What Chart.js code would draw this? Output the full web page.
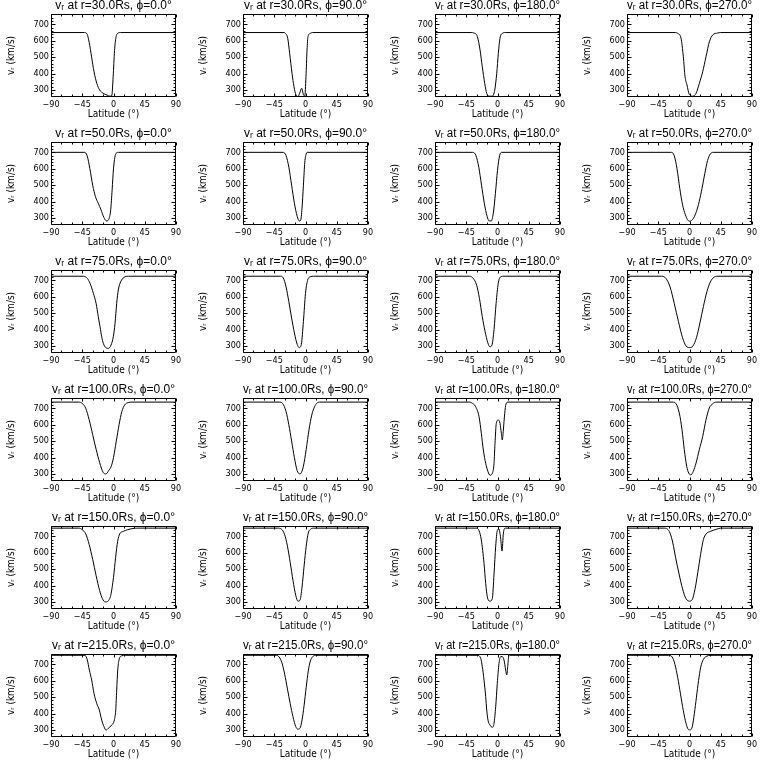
<!DOCTYPE html>
<html><head><meta charset="utf-8">
<script src="https://cdn.jsdelivr.net/npm/chart.js@4.4.0/dist/chart.umd.min.js"></script>
<style>
html,body{margin:0;padding:0;background:#fff;}
#grid{position:relative;width:768px;height:768px;background:#fff;}
.cell{position:absolute;width:192px;height:128px;}
canvas{display:block;}
</style></head><body><div id="grid"></div>
<script>
// ---------- axes ----------
const RADII = [30, 50, 75, 100, 150, 215];
const PHIS = [0, 90, 180, 270];
const LAT_TICKS = [-90, -45, 0, 45, 90];
const LAT_MINOR = [-75, -60, -30, -15, 15, 30, 60, 75];
const V_TICKS = [300, 400, 500, 600, 700];
const V_MINOR = [260, 280, 320, 340, 360, 380, 420, 440, 460, 480, 520, 540, 560, 580, 620, 640, 660, 680, 720, 740, 760];
const V_RANGE = [257, 763];

// ---------- r = 30 Rs ----------
const lat_30_0 = [-90, -42, -38, -35, -31.5, -28, -24, -20, -15, -9, -5, -2.5, -0.5, 1.5, 3.5, 6, 10, 90];
const v_30_0   = [650, 650, 640, 590, 500, 410, 340, 300, 280, 268, 262, 265, 380, 540, 620, 645, 650, 650];
const lat_30_90 = [-90, -31, -29, -25.6, -22.8, -19.4, -16.6, -13.7, -10.8, -8.5, -5.5, -3, -1.1, 0.7, 2.2, 3.6, 6.9, 10, 90];
const v_30_90   = [650, 650, 645, 615, 523, 401, 320, 269, 260, 279, 310, 272, 262, 381, 543, 625, 645, 650, 650];
const lat_30_180 = [-90, -38, -34, -29, -25.1, -21.9, -18.4, -15.5, -12.2, -7.5, -4, -1.1, 1.2, 3.6, 6.9, 11.8, 90];
const v_30_180   = [650, 650, 647, 625, 543, 441, 340, 279, 262, 262, 299, 401, 523, 615, 645, 650, 650];
const lat_30_270 = [-90, -20, -17, -12.2, -8.9, -6.4, -3.6, -0.3, 4.6, 9.4, 14.2, 19, 23.8, 28.6, 33.4, 40.6, 45, 90];
const v_30_270   = [650, 650, 645, 615, 503, 381, 330, 273, 262, 279, 340, 411, 503, 594, 635, 647, 650, 650];

// ---------- r = 50 Rs ----------
const lat_50_0 = [-90, -42, -38, -34, -30, -26, -22, -18, -14, -10, -7, -4, -2, 0, 2, 4, 7, 90];
const v_50_0   = [700, 700, 680, 600, 500, 430, 390, 350, 305, 282, 290, 350, 470, 600, 670, 695, 700, 700];
const lat_50_90 = [-90, -32, -28, -24, -20, -16, -12, -9, -7, -5, -3, -1, 1, 3, 90];
const v_50_90   = [700, 700, 680, 610, 500, 390, 310, 282, 285, 360, 500, 640, 690, 700, 700];
const lat_50_180 = [-90, -36, -31, -27, -23, -19, -15, -12, -9, -6, -3, 0, 3, 6, 90];
const v_50_180   = [700, 700, 680, 610, 500, 390, 310, 282, 282, 330, 450, 590, 680, 700, 700];
const lat_50_270 = [-90, -26, -22, -18, -14, -10, -6, -3, 0, 3, 6, 10, 14, 18, 22, 26, 30, 34, 90];
const v_50_270   = [700, 700, 680, 600, 480, 380, 320, 290, 280, 285, 300, 340, 400, 480, 570, 650, 690, 700, 700];

// ---------- r = 75 Rs ----------
const lat_75_0 = [-90, -43.4, -37.7, -33.8, -29, -25.1, -21.9, -19.4, -17, -14.7, -10.8, -7.5, -3.6, -0.3, 2.2, 4.6, 6.9, 10.4, 15.1, 21.4, 90];
const v_75_0   = [725, 725, 712, 682, 621, 560, 478, 417, 356, 316, 289, 285, 305, 356, 438, 560, 641, 692, 718, 725, 725];
const lat_75_90 = [-90, -36, -32, -28, -24, -20, -16, -12, -9, -6, -3, 0, 3, 7, 12, 90];
const v_75_90   = [725, 725, 715, 660, 570, 470, 380, 310, 290, 310, 450, 620, 700, 722, 725, 725];
const lat_75_180 = [-90, -40, -35, -30, -26, -22, -18, -14, -11, -8, -5, -2, 1, 4, 8, 90];
const v_75_180   = [725, 725, 712, 670, 590, 480, 390, 320, 295, 305, 400, 560, 680, 720, 725, 725];
const lat_75_270 = [-90, -40, -34, -28, -22, -16, -10, -5, 0, 5, 10, 15, 20, 25, 30, 35, 40, 90];
const v_75_270   = [725, 725, 712, 660, 560, 450, 350, 300, 290, 300, 350, 440, 540, 630, 690, 718, 725, 725];

// ---------- r = 100 Rs ----------
const lat_100_0 = [-90, -50, -45, -40, -35, -30, -25, -20, -15, -11, -7, -3, 0, 4, 8, 12, 16, 22, 28, 90];
const v_100_0   = [738, 738, 730, 700, 630, 540, 450, 370, 310, 300, 320, 350, 400, 500, 600, 680, 720, 736, 738, 738];
const lat_100_90 = [-90, -38, -33, -28, -24, -20, -16, -12, -8, -4, 0, 4, 8, 12, 16, 20, 90];
const v_100_90   = [738, 738, 730, 680, 600, 500, 400, 320, 300, 330, 420, 540, 640, 700, 730, 738, 738];
const lat_100_180 = [-90, -40, -37.7, -31.4, -26.6, -23.3, -20.4, -17, -13.7, -10.8, -7.5, -5, -3.6, -1.7, 1.2, 3.6, 5.5, 6.9, 8.4, 10.4, 12.2, 15.1, 90];
const v_100_180   = [738, 738, 734, 710, 649, 548, 446, 365, 314, 292, 303, 365, 487, 609, 629, 609, 548, 507, 568, 670, 726, 738, 738];
const lat_100_270 = [-90, -24, -19.4, -14.7, -10.8, -7.5, -4, -1.1, 2.2, 5.5, 9.4, 14.1, 19, 23.8, 28.5, 33.4, 38.2, 90];
const v_100_270   = [738, 738, 728, 671, 570, 448, 346, 305, 295, 316, 366, 448, 529, 631, 702, 728, 738, 738];

// ---------- r = 150 Rs ----------
const lat_150_0 = [-90, -50, -45, -40, -35, -30, -25, -20, -16, -12, -8, -4, 0, 3, 6, 9, 14, 20, 28, 35, 90];
const v_150_0   = [750, 750, 740, 715, 650, 560, 460, 370, 320, 300, 305, 340, 450, 570, 670, 715, 730, 740, 748, 750, 750];
const lat_150_90 = [-90, -40, -35, -30, -26, -22, -18, -14, -11, -8, -5, -2, 1, 4, 8, 12, 90];
const v_150_90   = [750, 750, 745, 710, 640, 540, 430, 340, 305, 310, 390, 520, 640, 720, 745, 750, 750];
const lat_150_180 = [-90, -30, -26.6, -23.3, -19.4, -17, -14.7, -10.8, -7.5, -5, -2.6, -0.3, 2, 4.5, 6.5, 8.5, 11, 90];
const v_150_180   = [750, 750, 735, 678, 535, 413, 332, 305, 320, 470, 640, 735, 745, 690, 610, 720, 750, 750];
const lat_150_270 = [-90, -36, -32, -28, -24, -20, -15, -10, -5, 0, 4, 8, 12, 16, 20, 24, 30, 38, 45, 90];
const v_150_270   = [750, 750, 745, 720, 660, 570, 470, 380, 320, 305, 315, 380, 480, 590, 680, 715, 730, 742, 750, 750];

// ---------- r = 215 Rs ----------
const lat_215_0 = [-90, -44, -41, -37.7, -34.8, -31.4, -28.1, -24.2, -20.4, -17, -13.7, -10.8, -7.5, -2.6, 1.2, 3.2, 4.6, 6.1, 7.9, 11.8, 16.6, 90];
const v_215_0   = [755, 755, 755, 726, 665, 604, 523, 462, 421, 360, 320, 299, 310, 330, 360, 421, 543, 665, 726, 752, 755, 755];
const lat_215_90 = [-90, -42, -38, -34, -30, -26, -22, -18, -14, -11, -8, -5, -2, 1, 4, 7, 10, 14, 90];
const v_215_90   = [755, 755, 745, 710, 640, 550, 460, 380, 320, 305, 310, 360, 450, 560, 660, 720, 745, 755, 755];
const lat_215_180 = [-90, -29, -24.2, -21.9, -19.4, -17, -15.5, -13.7, -10.8, -7.5, -5, -2.6, -0.3, 2.2, 4.6, 6.9, 9.4, 11.8, 13.3, 14.7, 16.1, 18, 90];
const v_215_180   = [755, 755, 737, 686, 604, 503, 421, 360, 330, 316, 340, 442, 584, 706, 747, 747, 726, 665, 635, 686, 747, 755, 755];
const lat_215_270 = [-90, -30, -25, -21, -17, -13, -9, -5, -2, 1, 4, 7, 10, 13, 16, 20, 25, 30, 90];
const v_215_270   = [755, 755, 745, 700, 620, 520, 420, 340, 305, 300, 320, 400, 500, 600, 680, 730, 750, 755, 755];

const PANELS = [
  [[lat_30_0, v_30_0], [lat_30_90, v_30_90], [lat_30_180, v_30_180], [lat_30_270, v_30_270]],
  [[lat_50_0, v_50_0], [lat_50_90, v_50_90], [lat_50_180, v_50_180], [lat_50_270, v_50_270]],
  [[lat_75_0, v_75_0], [lat_75_90, v_75_90], [lat_75_180, v_75_180], [lat_75_270, v_75_270]],
  [[lat_100_0, v_100_0], [lat_100_90, v_100_90], [lat_100_180, v_100_180], [lat_100_270, v_100_270]],
  [[lat_150_0, v_150_0], [lat_150_90, v_150_90], [lat_150_180, v_150_180], [lat_150_270, v_150_270]],
  [[lat_215_0, v_215_0], [lat_215_90, v_215_90], [lat_215_180, v_215_180], [lat_215_270, v_215_270]]
];

// ---------- style ----------
const TICK_FONT = {family: '"Liberation Sans Narrow", "DejaVu Sans Condensed", sans-serif', size: 9, lineHeight: 1.1, weight: 'normal'};
const LABEL_FONT = {family: '"Liberation Sans Narrow", "DejaVu Sans Condensed", sans-serif', size: 10, lineHeight: '12px', weight: 'normal'};
const TITLE_FONT = {family: '"Liberation Sans", "DejaVu Sans", sans-serif', size: 12, lineHeight: '12px', weight: 'normal'};

// IDL-style box with inward ticks on all four sides
const boxTicks = {
  id: 'boxTicks',
  afterDatasetsDraw(chart) {
    const {ctx, chartArea: a, scales: {x, y}} = chart;
    ctx.save();
    ctx.strokeStyle = '#000';
    ctx.lineWidth = 1;
    const L = Math.round(a.left) + 0.5, R = Math.round(a.right) - 0.5;
    const T = Math.round(a.top) + 0.5, B = Math.round(a.bottom) - 0.5;
    ctx.beginPath();
    ctx.rect(L, T, R - L, B - T);
    const xt = (vals, len) => vals.forEach(v => {
      const p = Math.round(x.getPixelForValue(v)) + 0.5;
      ctx.moveTo(p, B); ctx.lineTo(p, B - len);
      ctx.moveTo(p, T); ctx.lineTo(p, T + len);
    });
    const yt = (vals, len) => vals.forEach(v => {
      const p = Math.round(y.getPixelForValue(v)) + 0.5;
      if (p < T || p > B) return;
      ctx.moveTo(L, p); ctx.lineTo(L + len, p);
      ctx.moveTo(R, p); ctx.lineTo(R - len, p);
    });
    xt(LAT_TICKS, 3); xt(LAT_MINOR, 2);
    yt(V_TICKS, 4); yt(V_MINOR, 2);
    ctx.stroke();
    ctx.restore();
  }
};

const grid = document.getElementById('grid');
RADII.forEach((r, i) => {
  PHIS.forEach((phi, j) => {
    const cell = document.createElement('div');
    cell.className = 'cell';
    cell.style.left = (j * 192) + 'px';
    cell.style.top = (i * 128) + 'px';
    const cv = document.createElement('canvas');
    cv.width = 192; cv.height = 128;
    cv.style.width = '192px'; cv.style.height = '128px';
    cell.appendChild(cv);
    grid.appendChild(cell);
    const [lat, v] = PANELS[i][j];
    new Chart(cv, {
      type: 'line',
      data: {
        datasets: [{
          data: lat.map((x, k) => ({x: x, y: v[k]})),
          borderColor: '#000', borderWidth: 1, pointRadius: 0, fill: false,
          cubicInterpolationMode: 'monotone'
        }]
      },
      options: {
        responsive: false, animation: false, devicePixelRatio: 1,
        layout: {padding: {left: 0, right: 16, top: 0, bottom: 0}},
        plugins: {
          legend: {display: false}, tooltip: {enabled: false},
          title: {
            display: true, fullSize: false, color: '#000',
            text: 'v\u1D63 at r=' + r.toFixed(1) + 'Rs, \u03D5=' + phi.toFixed(1) + '\u00B0',
            font: TITLE_FONT, padding: {top: 0, bottom: 2}
          }
        },
        scales: {
          x: {
            type: 'linear', min: -90, max: 90,
            afterFit(s) { s.height = 31; },
            afterBuildTicks(s) { s.ticks = LAT_TICKS.map(t => ({value: t})); },
            grid: {display: false, drawTicks: false}, border: {display: false},
            ticks: {color: '#000', font: TICK_FONT, padding: 3, maxRotation: 0, autoSkip: false,
                    callback: t => String(t).replace('-', '\u2212')},
            title: {display: true, text: 'Latitude (\u00B0)', color: '#000', font: LABEL_FONT, padding: {top: 0, bottom: 8}}
          },
          y: {
            type: 'linear', min: V_RANGE[0], max: V_RANGE[1],
            afterFit(s) { s.width = 51; },
            afterBuildTicks(s) { s.ticks = V_TICKS.map(t => ({value: t})); },
            grid: {display: false, drawTicks: false}, border: {display: false},
            ticks: {color: '#000', font: TICK_FONT, padding: 2, autoSkip: false},
            title: {display: true, text: 'v\u1D63 (km/s)', color: '#000', font: LABEL_FONT, padding: {top: 5, bottom: 0}}
          }
        }
      },
      plugins: [boxTicks]
    });
  });
});
</script>
</body></html>
